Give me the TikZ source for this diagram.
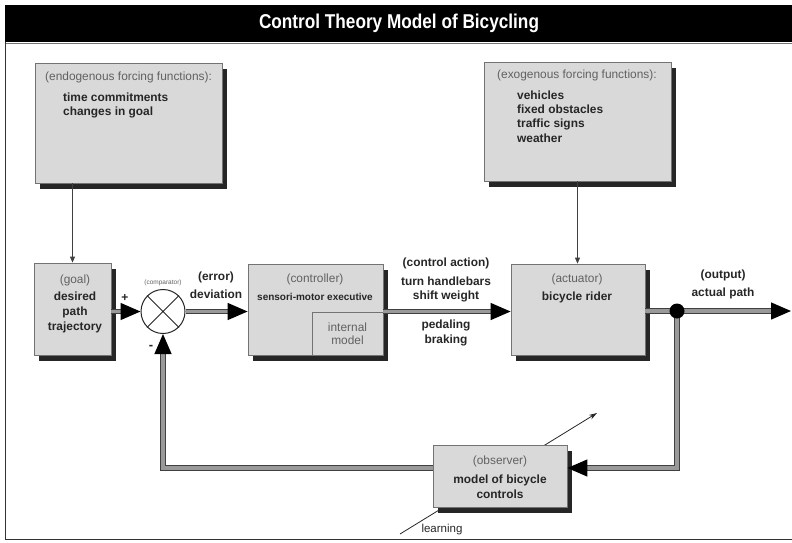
\documentclass[tikz,border=0pt]{standalone}
\usepackage{fontspec}
\setmainfont{Liberation Sans}
\newfontfamily\titlefont[FakeStretch=0.86]{Liberation Sans}
\usetikzlibrary{arrows.meta,calc}
\definecolor{shadowc}{RGB}{38,38,38}
\begin{document}
\begin{tikzpicture}[x=1pt,y=-1pt,
  box/.style={draw=black!55, line width=0.8pt, fill=black!15, inner sep=0pt},
  shadownode/.style={inner sep=0pt, outer sep=0pt, anchor=north west},
  plabel/.style={font=\fontsize{11.9}{13}\selectfont, text=black!62, inner sep=0pt},
  blabel/.style={font=\bfseries\fontsize{11.9}{13}\selectfont, text=black!85, inner sep=0pt},
  dbl/.style={draw=black!75, line width=1.3pt, double=black!40, double distance=3.2pt},
  bigtip/.style={-{Triangle[length=20pt,width=17pt,color=black]}},
  thin/.style={draw=black!75, line width=0.9pt, -{Triangle[length=6pt,width=5pt]}}
]
\useasboundingbox (0,0) rectangle (792,542);
% frame
\fill[black] (5,5) rectangle (792,42);
\draw[black!55, line width=1pt] (5,43) -- (792,43);
\draw[black!80, line width=1.6pt] (5.5,42) -- (5.5,539.5) -- (792,539.5);

% learning arrow (behind observer)
\coordinate (lrnS) at (400,534);
\coordinate (lrnE) at (597,413);
\draw[black!85, line width=0.8pt, -{Stealth[length=8pt,width=5pt]}] (lrnS) -- (lrnE);

% shadows as solid rules
\node[shadownode] (endoS) at (40,69)  {\textcolor{shadowc}{\rule{187pt}{120pt}}};
\node[shadownode] (exoS)  at (489,68) {\textcolor{shadowc}{\rule{187pt}{119pt}}};
\node[shadownode] (goalS) at (39,269) {\textcolor{shadowc}{\rule{77pt}{92pt}}};
\node[shadownode] (ctrlS) at (253,270) {\textcolor{shadowc}{\rule{135pt}{91pt}}};
\node[shadownode] (actS)  at (516,270) {\textcolor{shadowc}{\rule{134pt}{91pt}}};
\node[shadownode] (obsS)  at (438,451) {\textcolor{shadowc}{\rule{134pt}{62pt}}};

% boxes
\node[box, minimum width=187pt, minimum height=120pt] (endo) at (128.5,123) {};
\node[box, minimum width=187pt, minimum height=119pt] (exo) at (577.5,121.5) {};
\node[box, minimum width=77pt, minimum height=92pt] (goal) at (72.5,309) {};
\node[box, minimum width=135pt, minimum height=91pt] (ctrl) at (315.5,309.5) {};
\node[box, minimum width=134pt, minimum height=91pt] (act) at (578,309.5) {};
\node[box, minimum width=134pt, minimum height=62pt] (obs) at (500,476) {};
\node[draw=black!55, line width=0.8pt, fill=black!15, minimum width=71pt, minimum height=43pt, anchor=south east, inner sep=0pt, align=center, font=\fontsize{11.9}{13.5}\selectfont, text=black!62] (intm) at (ctrl.south east) {internal\\model};
\node[blabel, font=\fontsize{11.5}{13}\selectfont] (learn) at (442,530) {learning};

\node[circle, draw=black!85, line width=1pt, fill=white, minimum size=44pt, inner sep=0pt] (comp) at (163,311.5) {};
\draw[black!85, line width=1pt] (comp.north west) -- (comp.south east) (comp.north east) -- (comp.south west);

% texts in endo
\node[plabel, anchor=west] (endoT) at (45,77) {(endogenous forcing functions):};
\node[blabel, anchor=west] (endo1) at (63,97) {time commitments};
\node[blabel, anchor=west] (endo2) at (63,112) {changes in goal};
% texts in exo
\node[plabel, anchor=west] (exoT) at (497,75) {(exogenous forcing functions):};
\node[blabel, anchor=west] (exo1) at (517,95) {vehicles};
\node[blabel, anchor=west] (exo2) at (517,109.5) {fixed obstacles};
\node[blabel, anchor=west] (exo3) at (517,124) {traffic signs};
\node[blabel, anchor=west] (exo4) at (517,138.5) {weather};
% goal
\node[plabel] (goalT) at (75,280) {(goal)};
\node[blabel, align=center, font=\bfseries\fontsize{11.9}{15}\selectfont] (goalB) at (75,312) {desired\\path\\trajectory};
% controller
\node[plabel] (ctrlT) at (315,279) {(controller)};
\node[blabel, font=\bfseries\fontsize{10}{11}\selectfont] (ctrlB) at (315,297) {sensori-motor executive};
% actuator
\node[plabel] (actT) at (577,279) {(actuator)};
\node[blabel] (actB) at (577,297) {bicycle rider};
% observer
\node[plabel] (obsT) at (500,461) {(observer)};
\node[blabel, align=center, font=\bfseries\fontsize{11.9}{15}\selectfont] (obsB) at (500,486.5) {model of bicycle\\controls};
% comparator
\node[plabel, font=\fontsize{6.5}{7}\selectfont] (compT) at (163,283) {(comparator)};
\node[blabel, font=\bfseries\fontsize{12}{12}\selectfont] (plus) at (125,298) {+};
\node[blabel, font=\bfseries\fontsize{13}{12}\selectfont] (minus) at (151,347) {-};
% arrow labels
\node[blabel] (errT) at (216,277) {(error)};
\node[blabel] (errB) at (216,294) {deviation};
\node[blabel] (caT) at (446,263) {(control action)};
\node[blabel] (ca1) at (446,281) {turn handlebars};
\node[blabel] (ca2) at (446,296) {shift weight};
\node[blabel] (ca3) at (446,325) {pedaling};
\node[blabel] (ca4) at (446,340) {braking};
\node[blabel] (outT) at (723,275) {(output)};
\node[blabel] (outB) at (723,293) {actual path};

% thin arrows
\draw[thin] (endo.south -| goal.north) -- (goal.north);
\draw[thin] (exo.south) -- (exo.south |- act.north);

% main connectors
\coordinate (jn) at (677,311);
\coordinate (fbR) at (677,468);
\coordinate (outE) at (791,311);
\draw[dbl, bigtip] (goal.east |- comp.west) -- (comp.west);
\draw[dbl, bigtip] (comp.east) -- (comp.east -| ctrl.west);
\draw[dbl, bigtip] (ctrl.east |- comp) -- (act.west |- comp);
\draw[dbl] (act.east |- jn) -- (jn);
\draw[dbl, bigtip] (jn) -- (outE);
\draw[dbl, bigtip] (jn) -- (fbR) -- (fbR -| obs.east);
\draw[dbl, bigtip] (fbR -| obs.west) -| (comp.south);
\node[circle, fill=black, minimum size=15pt, inner sep=0pt] (dot) at (jn) {};

% title
\node[font=\titlefont\bfseries\fontsize{20}{24}\selectfont, text=white] (title) at (399,23) {Control Theory Model of Bicycling};
\end{tikzpicture}
\end{document}
